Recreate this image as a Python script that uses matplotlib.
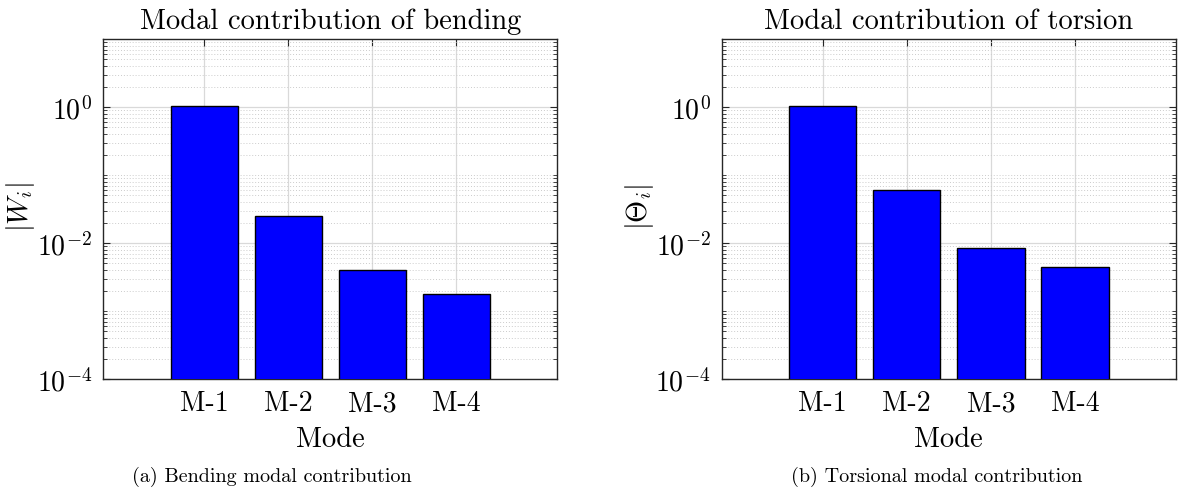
import numpy as np
import matplotlib
matplotlib.use("Agg")
import matplotlib.pyplot as plt
from matplotlib.ticker import FixedLocator, LogFormatterSciNotation, NullFormatter

plt.rcParams["font.family"] = ["cmr10", "DejaVu Serif"]
plt.rcParams["mathtext.fontset"] = "cm"
plt.rcParams["axes.formatter.use_mathtext"] = True

modes = ["M-1", "M-2", "M-3", "M-4"]
bending = [1.02, 0.0252, 0.0040, 0.00175]
torsion = [1.05, 0.060, 0.0085, 0.0044]

titles = ["Modal contribution of bending", "Modal contribution of torsion"]
ylabels = [r"$|W_i|$", r"$|\Theta_i|$"]
captions = ["(a) Bending modal contribution", "(b) Torsional modal contribution"]

fig = plt.figure(figsize=(11.79, 5.02), dpi=100)
W, H = 1179.0, 502.0
axes_px = [(103.3, 557.3), (721.7, 1176.0)]
top_px, bot_px = 40.0, 380.0
caption_x = [272.0, 937.0]

major_y = [1e-4, 1e-2, 1e0]
minor_y = [k * 10.0 ** n for n in range(-4, 1) for k in range(1, 10)
           if not (k == 1 and n in (-4, -2, 0))] + [10.0]

x = np.arange(1, len(modes) + 1)
edge = "#262626"

for i, values in enumerate([bending, torsion]):
    x0, x1 = axes_px[i]
    ax = fig.add_axes([x0 / W, 1 - bot_px / H, (x1 - x0) / W, (bot_px - top_px) / H])
    ax.bar(x, values, width=0.8, color=(0, 0, 1), edgecolor="black", linewidth=1.0, zorder=3)
    ax.set_yscale("log")
    ax.set_ylim(1e-4, 1e1)
    ax.set_xlim(-0.2, 5.2)

    ax.set_xticks(x)
    ax.set_xticklabels(modes, fontsize=20)
    ax.yaxis.set_major_locator(FixedLocator(major_y))
    ax.yaxis.set_major_formatter(LogFormatterSciNotation())
    ax.yaxis.set_minor_locator(FixedLocator(minor_y))
    ax.yaxis.set_minor_formatter(NullFormatter())
    ax.tick_params(axis="y", labelsize=20)

    ax.tick_params(which="both", direction="in", top=True, right=True, color=edge)
    ax.tick_params(which="major", length=5, width=0.8, pad=8)
    ax.tick_params(which="minor", length=3, width=0.6)
    ax.tick_params(axis="x", which="minor", top=False, bottom=False)

    ax.set_axisbelow(True)
    ax.grid(True, which="major", axis="both", color="#d9d9d9", linewidth=0.9, linestyle="-")
    ax.grid(True, which="minor", axis="y", color="#cccccc", linewidth=0.7, linestyle=(0, (1, 2)))

    for s in ax.spines.values():
        s.set_color(edge)
        s.set_linewidth(1.0)

    ax.set_title(titles[i], fontsize=20.5, pad=8)
    ax.set_xlabel("Mode", fontsize=20.5, labelpad=7)
    ax.set_ylabel(ylabels[i], fontsize=20.5)
    ax.yaxis.set_label_coords(-0.145, 0.51)

    fig.text(caption_x[i] / W, 1 - 477.0 / H, captions[i], fontsize=14.5,
             ha="center", va="center")

fig.savefig("out.png", dpi=100)
